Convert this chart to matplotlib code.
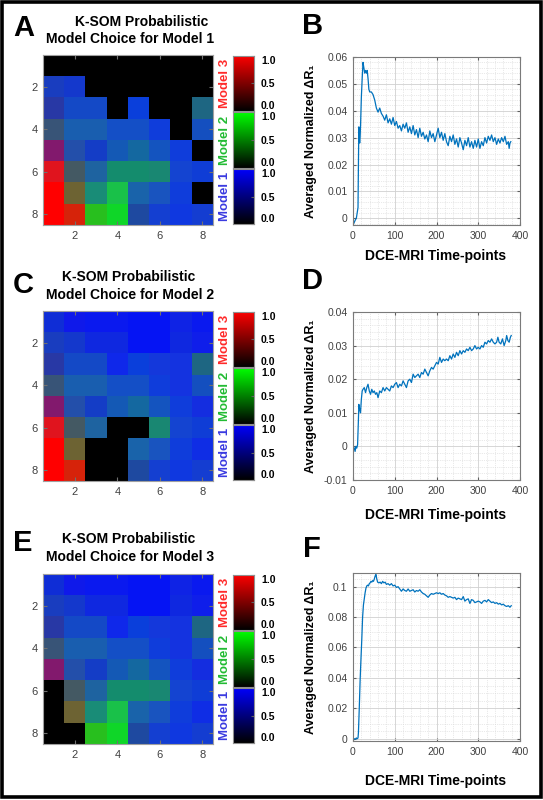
import numpy as np
import matplotlib
matplotlib.use("Agg")
import matplotlib.pyplot as plt
from matplotlib.colors import LinearSegmentedColormap
from matplotlib.patches import Rectangle
from matplotlib.ticker import MultipleLocator

plt.rcParams['font.family'] = ['Liberation Sans', 'DejaVu Sans']

# ---- K-SOM map, 8x8 probabilities per model (shown as R, G, B) ----
p_model3 = [  # red channel
    [.06, .06, .04, .04, .02, .02, .06, .04],
    [.10, .08, .06, .06, .02, .02, .06, .06],
    [.16, .08, .08, .06, .04, .08, .08, .12],
    [.22, .10, .10, .08, .08, .06, .08, .08],
    [.51, .14, .08, .08, .08, .08, .06, .08],
    [.88, .27, .12, .08, .08, .10, .08, .06],
    [1.0, .43, .10, .10, .10, .10, .06, .06],
    [1.0, .84, .16, .06, .12, .08, .06, .08],
]
p_model2 = [  # green channel
    [.18, .10, .10, .10, .08, .08, .14, .10],
    [.24, .22, .16, .16, .08, .08, .16, .12],
    [.22, .29, .29, .16, .25, .22, .20, .40],
    [.33, .37, .37, .31, .31, .24, .20, .31],
    [.10, .31, .24, .35, .41, .33, .24, .18],
    [.08, .35, .39, .55, .55, .53, .27, .24],
    [0.0, .39, .55, .76, .39, .33, .24, .18],
    [0.0, .14, .75, .84, .29, .25, .22, .24],
]
p_model1 = [  # blue channel
    [.84, .92, .94, .94, .96, .96, .90, .94],
    [.75, .80, .88, .88, .96, .96, .88, .92],
    [.65, .78, .78, .92, .86, .86, .88, .51],
    [.47, .69, .69, .78, .78, .86, .88, .75],
    [.43, .67, .78, .71, .63, .75, .86, .88],
    [.12, .39, .63, .43, .43, .45, .82, .84],
    [0.0, .20, .47, .29, .67, .75, .86, .90],
    [0.0, .04, .12, .16, .63, .82, .88, .82],
]

# cells blanked (black) in each panel, (row, col) 1-based
hidden_a = [(1, c) for c in range(1, 9)] + [(2, c) for c in range(3, 9)] + \
           [(3, 4), (3, 6), (3, 7), (4, 7), (5, 8), (7, 8)]
hidden_c = [(6, 4), (6, 5), (7, 3), (7, 4), (8, 3), (8, 4)]
hidden_e = [(6, 1), (7, 1), (8, 1), (8, 2)]

# ---- averaged normalized dR1 curves ----
t_b = [0, 3, 6, 8, 10, 12, 13, 14, 15, 16, 17, 18, 20, 22, 24, 26, 28, 30, 32, 34, 36, 38, 40,
       44, 48, 52, 56, 60, 64, 68, 72, 76, 80, 84, 88, 92, 96, 100, 104, 108, 112, 116, 120,
       124, 128, 132, 136, 140, 144, 148, 152, 156, 160, 164, 168, 172, 176, 180, 184, 188,
       192, 196, 200, 204, 208, 212, 216, 220, 224, 228, 232, 236, 240, 244, 248, 252, 256,
       260, 264, 268, 272, 276, 280, 284, 288, 292, 296, 300, 304, 308, 312, 316, 320, 324,
       328, 332, 336, 340, 344, 348, 352, 356, 360, 364, 368, 372, 374, 376, 378]
v_b = [-0.0025, -0.0015, -0.0005, 0.0, 0.002, 0.004, 0.020, 0.034, 0.030, 0.028, 0.030,
       0.034, 0.045, 0.052, 0.058, 0.056, 0.054, 0.055, 0.054, 0.055, 0.052, 0.048, 0.047,
       0.047, 0.046, 0.044, 0.041, 0.0395, 0.041, 0.039, 0.038, 0.0365, 0.0385, 0.0355,
       0.037, 0.035, 0.0375, 0.0345, 0.036, 0.0335, 0.0345, 0.0325, 0.035, 0.0335, 0.0355,
       0.032, 0.034, 0.0315, 0.0345, 0.031, 0.033, 0.030, 0.0335, 0.0305, 0.032, 0.0295,
       0.031, 0.0285, 0.0325, 0.030, 0.0315, 0.0285, 0.031, 0.0335, 0.030, 0.032, 0.029,
       0.0315, 0.0285, 0.027, 0.0305, 0.0285, 0.031, 0.0275, 0.0295, 0.0265, 0.030, 0.028,
       0.0255, 0.029, 0.027, 0.030, 0.0265, 0.0285, 0.026, 0.029, 0.0265, 0.0295, 0.026,
       0.0285, 0.027, 0.030, 0.028, 0.0305, 0.029, 0.031, 0.0285, 0.030, 0.0275, 0.0295,
       0.028, 0.030, 0.0285, 0.0305, 0.0275, 0.0285, 0.026, 0.028, 0.0285]

t_d = [0, 3, 5, 7, 9, 11, 13, 14, 16, 18, 20, 22, 24, 27, 30, 33, 36, 39, 42, 45, 48, 51, 54,
       57, 60, 64, 68, 72, 76, 80, 84, 88, 92, 96, 100, 104, 108, 112, 116, 120, 124, 128,
       132, 136, 140, 144, 148, 152, 156, 160, 164, 168, 172, 176, 180, 184, 188, 192, 196,
       200, 204, 208, 212, 216, 220, 224, 228, 232, 236, 240, 244, 248, 252, 256, 260, 264,
       268, 272, 276, 280, 284, 288, 292, 296, 300, 304, 308, 312, 316, 320, 324, 328, 332,
       336, 340, 344, 347, 350, 354, 358, 362, 366, 368, 371, 374, 377, 379]
v_d = [0.0, -0.0005, -0.0015, 0.0, -0.0005, 0.0005, 0.008, 0.0125, 0.011, 0.010, 0.014,
       0.0165, 0.017, 0.0175, 0.016, 0.0175, 0.0185, 0.0165, 0.0155, 0.017, 0.016, 0.0165,
       0.0155, 0.016, 0.0145, 0.0165, 0.016, 0.0175, 0.0165, 0.0175, 0.017, 0.0165, 0.018,
       0.0175, 0.0185, 0.019, 0.0175, 0.0185, 0.018, 0.0195, 0.0185, 0.0175, 0.0195, 0.020,
       0.019, 0.0215, 0.0205, 0.021, 0.0215, 0.0205, 0.022, 0.0215, 0.023, 0.022, 0.021,
       0.0225, 0.0235, 0.023, 0.024, 0.025, 0.0245, 0.0265, 0.025, 0.026, 0.0255, 0.026,
       0.0255, 0.027, 0.026, 0.0275, 0.0265, 0.028, 0.027, 0.0285, 0.0275, 0.0285, 0.028,
       0.029, 0.0285, 0.0295, 0.0285, 0.029, 0.030, 0.029, 0.0295, 0.029, 0.030, 0.0295,
       0.031, 0.0305, 0.0315, 0.031, 0.032, 0.031, 0.0305, 0.031, 0.0325, 0.031, 0.0305,
       0.032, 0.030, 0.0315, 0.033, 0.0315, 0.031, 0.0325, 0.033]

t_f = [0, 2, 4, 6, 8, 10, 12, 13, 15, 17, 19, 21, 23, 25, 27, 29, 31, 33, 35, 37, 39, 41, 43,
       45, 47, 49, 51, 53, 55, 57, 59, 62, 65, 68, 71, 74, 77, 80, 84, 88, 92, 96, 100, 104,
       108, 112, 116, 120, 124, 128, 132, 136, 140, 144, 148, 152, 156, 160, 164, 168, 172,
       176, 180, 184, 188, 192, 196, 200, 204, 208, 212, 216, 220, 224, 228, 232, 236, 240,
       244, 248, 252, 256, 260, 264, 268, 272, 276, 280, 284, 288, 292, 296, 300, 304, 308,
       312, 316, 320, 324, 328, 332, 336, 340, 344, 348, 352, 356, 360, 364, 368, 372, 376,
       379]
v_f = [0.0, -0.0005, 0.0, -0.0003, 0.0005, 0.0, 0.0005, 0.004, 0.020, 0.038, 0.052, 0.065,
       0.080, 0.088, 0.092, 0.096, 0.099, 0.1005, 0.101, 0.1005, 0.102, 0.1025, 0.1035,
       0.103, 0.104, 0.1035, 0.105, 0.107, 0.108, 0.105, 0.103, 0.1025, 0.103, 0.102,
       0.1035, 0.1025, 0.103, 0.1015, 0.102, 0.101, 0.102, 0.1005, 0.101, 0.0995, 0.100,
       0.0985, 0.097, 0.0985, 0.0975, 0.097, 0.0985, 0.097, 0.0975, 0.098, 0.0965, 0.0975,
       0.097, 0.098, 0.0965, 0.0955, 0.095, 0.094, 0.093, 0.0945, 0.0955, 0.095, 0.0955,
       0.096, 0.0955, 0.096, 0.095, 0.0955, 0.0945, 0.094, 0.093, 0.0935, 0.093, 0.0925,
       0.093, 0.0915, 0.0925, 0.092, 0.0915, 0.0935, 0.0905, 0.0915, 0.092, 0.089, 0.0915,
       0.091, 0.0895, 0.090, 0.0905, 0.090, 0.089, 0.0905, 0.091, 0.090, 0.0915, 0.0905,
       0.0895, 0.090, 0.089, 0.0895, 0.0885, 0.089, 0.088, 0.0885, 0.0875, 0.087, 0.0875,
       0.0865, 0.0875]

W, H = 543, 800
fig = plt.figure(figsize=(W / 100, H / 100), dpi=100)


def rect(x0, y0, x1, y1):
    # pixel box (top-left origin) -> figure fraction
    return [x0 / W, 1 - y1 / H, (x1 - x0) / W, (y1 - y0) / H]


def heatmap(top, hidden):
    rgb = np.stack([p_model3, p_model2, p_model1], axis=2).astype(float)
    for r, c in hidden:
        rgb[r - 1, c - 1] = 0
    ax = fig.add_axes(rect(43, top, 213, top + 170))
    ax.imshow(np.clip(rgb, 0, 1), extent=(0.5, 8.5, 8.5, 0.5),
              interpolation='nearest', aspect='auto')
    ax.set_xticks([2, 4, 6, 8])
    ax.set_yticks([2, 4, 6, 8])
    ax.tick_params(direction='in', length=3, color='#707070', labelsize=8,
                   labelcolor='#404040', pad=4, top=True, right=True,
                   labeltop=False, labelright=False)
    for s in ax.spines.values():
        s.set_color('#a0a0a0')
        s.set_linewidth(0.8)

    # three stacked colour bars
    seg = 170 / 3
    info = [('#ff0000', 'Model 3', '#ff2a2a'),
            ('#00ff00', 'Model 2', '#22bb33'),
            ('#0000ff', 'Model 1', '#3a3ae0')]
    for i, (col, name, tcol) in enumerate(info):
        y0 = top + i * seg + 0.8
        y1 = top + (i + 1) * seg - 0.8
        cax = fig.add_axes(rect(233, y0, 254, y1))
        cmap = LinearSegmentedColormap.from_list(name, ['black', col])
        cax.imshow(np.linspace(0, 1, 256)[:, None], cmap=cmap, origin='lower',
                   extent=(0, 1, 0, 1), aspect='auto')
        cax.set_xticks([])
        cax.yaxis.tick_right()
        cax.set_yticks([0, 0.5, 1])
        labs = cax.set_yticklabels(['0.0', '0.5', '1.0'], fontweight='bold')
        labs[0].set_va('bottom')
        labs[2].set_va('top')
        cax.tick_params(direction='in', length=2, labelsize=7.5, pad=5, color='#606060')
        for s in cax.spines.values():
            s.set_color('#909090')
            s.set_linewidth(0.8)
        fig.text(225 / W, 1 - (y0 + y1) / 2 / H, name, rotation=90, ha='center',
                 va='center', color=tcol, fontsize=9.5, fontweight='bold')


def curve(top, t, v, ylim, ymaj, ymin, xlab_off):
    ax = fig.add_axes(rect(353, top, 520, top + 168))
    ax.plot(t, v, color='#0072BD', lw=0.9)
    ax.set_xlim(0, 400)
    ax.set_ylim(*ylim)
    ax.xaxis.set_major_locator(MultipleLocator(100))
    ax.xaxis.set_minor_locator(MultipleLocator(20))
    ax.yaxis.set_major_locator(MultipleLocator(ymaj))
    ax.yaxis.set_minor_locator(MultipleLocator(ymin))
    ax.yaxis.set_major_formatter(plt.FuncFormatter(lambda x, p: ('%g' % round(x, 4))))
    ax.grid(True, which='major', color='#d0d0d0', lw=0.6)
    ax.grid(True, which='minor', color='#d4d4d4', lw=0.5, ls=':')
    ax.tick_params(which='both', direction='in', top=True, right=True, color='#606060')
    ax.tick_params(which='major', length=2.5, labelsize=7.5, labelcolor='#404040', pad=4)
    ax.tick_params(which='minor', length=0)
    for s in ax.spines.values():
        s.set_color('#7a7a7a')
        s.set_linewidth(0.8)
    ax.set_ylabel('Averaged Normalized ΔR₁', fontsize=9, fontweight='bold')
    ax.yaxis.set_label_coords((317 - 353) / 167, 0.5)
    fig.text(436 / W, 1 - (top + 168 + xlab_off) / H, 'DCE-MRI Time-points',
             ha='center', va='center', fontsize=10, fontweight='bold')


def title(y1, y2, x1, n):
    fig.text(x1 / W, 1 - y1 / H, 'K-SOM Probabilistic', ha='center', va='center',
             fontsize=10, fontweight='bold')
    fig.text(130 / W, 1 - y2 / H, 'Model Choice for Model %d' % n, ha='center',
             va='center', fontsize=10, fontweight='bold')


def letter(x, y, s):
    fig.text(x / W, 1 - y / H, s, ha='left', va='center', fontsize=21, fontweight='bold')


heatmap(55, hidden_a)
heatmap(311, hidden_c)
heatmap(574, hidden_e)
title(22, 39, 142, 1)
title(277, 295, 129, 2)
title(539, 557, 129, 3)

curve(57, t_b, v_b, (-0.0025, 0.06), 0.01, 0.002, 31)
curve(312, t_d, v_d, (-0.01, 0.04), 0.01, 0.002, 35)
curve(573, t_f, v_f, (-0.0015, 0.109), 0.02, 0.005, 40)

letter(13, 28, 'A')
letter(302, 26, 'B')
letter(13, 285, 'C')
letter(302, 281, 'D')
letter(13, 543, 'E')
letter(303, 549, 'F')

fig.patches.append(Rectangle((1.75 / W, 3.0 / H), 539 / W, 795 / H, transform=fig.transFigure,
                             fill=False, lw=2.6, ec='black'))

fig.savefig('out.png', dpi=100)
